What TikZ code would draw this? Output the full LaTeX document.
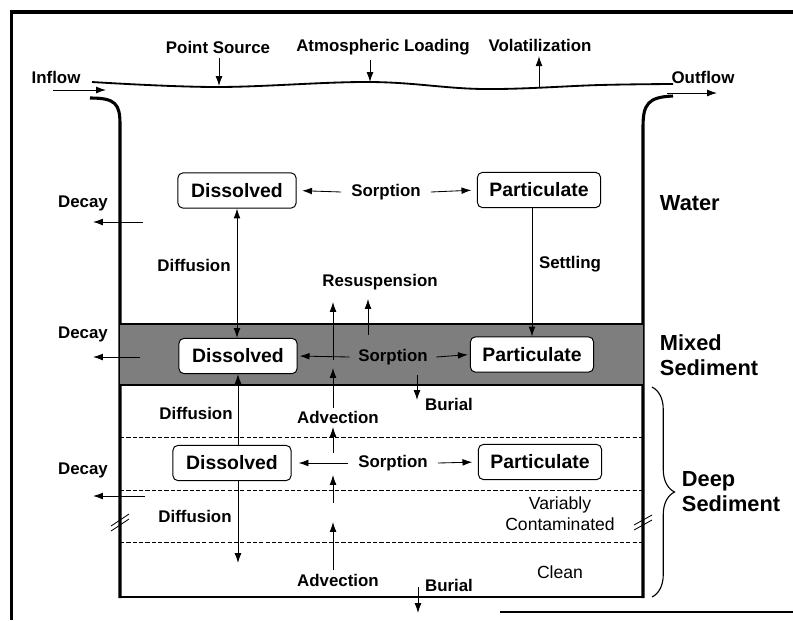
\documentclass[tikz,border=0pt]{standalone}
\usepackage{fontspec}
\setmainfont{Liberation Sans}
\usetikzlibrary{arrows.meta,
	decorations.pathreplacing
}
\definecolor{sediment}{HTML}{7E7E7E}

\begin{document}
\begin{tikzpicture}[x=0.025cm,y=-0.025cm,>={Latex[length=7pt,width=4.8pt]},
		box/.style={draw,fill=white,rounded corners=3.5pt,line width=0.7pt,minimum width=84pt,minimum height=25pt,inner xsep=8.5pt,font=\fontsize{13.8}{15}\selectfont\bfseries},
		lbl/.style={font=\fontsize{12}{13}\selectfont\bfseries},
		plain/.style={font=\fontsize{12.5}{15}\selectfont,align=center},
		layer/.style={font=\fontsize{15.5}{17.8}\selectfont\bfseries,align=left,anchor=west},
		flux/.style={line width=0.6pt},
		wall/.style={line width=2.2pt}]
		\useasboundingbox (0,0) rectangle (793,620);
		%
		% frame of the scan
		\draw[line width=3pt] (10,12) -- (793,12);
		\draw[line width=2.6pt] (11.5,10) -- (11.5,620);
		\draw[line width=2pt] (500,612) -- (793,612);
		%
		% tank
		\draw[wall] (90,98) .. controls (116,98) and (120,104) .. (120,125) -- (120,598);
		\draw[wall] (673,96) .. controls (648,97) and (643,104) .. (643,127) -- (643,598);
		\draw[line width=1.5pt] (120,597) -- (643,597);
		\draw[line width=1.3pt] plot[smooth,tension=0.6] coordinates {(92,82) (217,87) (370,82) (483,89) (600,85) (673,84)};
		%
		% mixed sediment band
		\fill[sediment] (120,324) rectangle (643,385);
		\draw[line width=1pt] (120,324) -- (643,324);
		\draw[line width=1pt] (120,385) -- (643,385);
		%
		% deep sediment layers
		\draw[flux,dash pattern=on 3pt off 1.5pt] (120,437) -- (643,437);
		\draw[flux,dash pattern=on 3pt off 1.5pt] (120,490) -- (643,490);
		\draw[flux,dash pattern=on 3pt off 1.5pt] (120,542) -- (643,542);
		%
		% breaks
		\draw[flux] (111,526) -- (129,514);
		\draw[flux] (111,531) -- (129,519);
		\draw[flux] (634,525) -- (652,515);
		\draw[flux] (634,530) -- (652,520);
		%
		% boxes
		\node[box] (disW) at (237,190.5) {Dissolved};
		\node[box] (parW) at (539,190) {Particulate};
		\node[box] (disM) at (238,356) {Dissolved};
		\node[box] (parM) at (532,354.5) {Particulate};
		\node[box] (disD) at (232,463) {Dissolved};
		\node[box] (parD) at (540,462) {Particulate};
		%
		% sorption
		\node[lbl,inner xsep=7pt] (sorpW) at (386,192) {Sorption};
		\node[lbl,inner xsep=6pt] (sorpM) at (393,357) {Sorption};
		\node[lbl,inner xsep=7pt] (sorpD) at (393,463) {Sorption};
		\draw[flux,->,shorten >=4pt] (sorpW.west) -- (disW.east);
		\draw[flux,->,shorten >=4pt] (sorpW.east) -- (parW.west);
		\draw[flux,->,shorten >=1.5pt] (sorpM.west) -- (disM.east);
		\draw[flux,->,shorten >=1.5pt] (sorpM.east) -- (parM.west);
		\draw[flux,->,shorten >=5pt] (sorpD.west) -- (disD.east);
		\draw[flux,->,shorten >=4pt] (sorpD.east) -- (parD.west);
		%
		% surface fluxes
		\node[lbl] (inflow) at (56,77) {Inflow};
		\node[lbl] (psource) at (218,47) {Point Source};
		\node[lbl] (atmos) at (383,47) {Atmospheric Loading};
		\node[lbl] (volat) at (540,45) {Volatilization};
		\node[lbl] (outflow) at (703,77) {Outflow};
		\coordinate (inA) at (53,90);
		\coordinate (inB) at (106,90);
		\coordinate (sPS) at (219,86);
		\coordinate (sAL) at (370,82);
		\coordinate (sVO) at (539,87);
		\coordinate (outA) at (667,93);
		\coordinate (outB) at (717,93);
		\draw[flux,->] (inA) -- (inB);
		\draw[flux,->] (sPS |- psource.south) -- (sPS);
		\draw[flux,->] (sAL |- atmos.south) -- (sAL);
		\draw[flux,->] (sVO) -- (sVO |- volat.south);
		\draw[flux,->] (outA) -- (outB);
		%
		% decay
		\node[lbl] (decW) at (83,203) {Decay};
		\node[lbl] (decM) at (83,334) {Decay};
		\node[lbl] (decD) at (83,470) {Decay};
		\coordinate (dWa) at (143,222);
		\coordinate (dWb) at (93,222);
		\coordinate (dMa) at (140,357);
		\coordinate (dMb) at (93,357);
		\coordinate (dDa) at (145,496);
		\coordinate (dDb) at (93,496);
		\draw[flux,->] (dWa) -- (dWb);
		\draw[flux,->] (dMa) -- (dMb);
		\draw[flux,->] (dDa) -- (dDb);
		%
		% diffusion
		\node[lbl] (difW) at (194,265) {Diffusion};
		\node[lbl] (difD1) at (196,413) {Diffusion};
		\node[lbl] (difD2) at (195,516) {Diffusion};
		\coordinate (difEnd) at (238,563);
		\draw[flux,<->] (disW.south) -- (disW.south |- disM.north);
		\draw[flux,->] (disM.south |- disD.north) -- (disM.south);
		\draw[flux,->] (disM.south |- disD.south) -- (difEnd);
		%
		% settling
		\node[lbl] (settl) at (570,264) {Settling};
		\draw[flux,->] (parM.north |- parW.south) -- (parM.north);
		%
		% resuspension and advection
		\node[lbl] (resusp) at (380,282) {Resuspension};
		\node[lbl] (advU) at (338,417) {Advection};
		\node[lbl] (advL) at (338,580) {Advection};
		\coordinate (rA1) at (333,360);
		\coordinate (rA2) at (333,302);
		\coordinate (rB1) at (368,335);
		\coordinate (rB2) at (368,299);
		\coordinate (aD1) at (333,408);
		\coordinate (aD2) at (333,368);
		\coordinate (aC1) at (333,453);
		\coordinate (aC2) at (333,427);
		\coordinate (aB1) at (333,503);
		\coordinate (aB2) at (333,475);
		\coordinate (aA1) at (333,570);
		\coordinate (aA2) at (333,522);
		\draw[flux,->] (rA1) -- (rA2);
		\draw[flux,->] (rB1) -- (rB2);
		\draw[flux,->] (aD1) -- (aD2);
		\draw[flux,->] (aC1) -- (aC2);
		\draw[flux,->] (aB1) -- (aB2);
		\draw[flux,->] (aA1) -- (aA2);
		%
		% burial
		\node[lbl] (burM) at (449,404) {Burial};
		\node[lbl] (burD) at (449,585) {Burial};
		\coordinate (bM1) at (417,375);
		\coordinate (bM2) at (417,400);
		\coordinate (bD1) at (418,587);
		\coordinate (bD2) at (418,613);
		\draw[flux,->] (bM1) -- (bM2);
		\draw[flux,->] (bD1) -- (bD2);
		%
		% deep layers
		\node[plain] (varc) at (560,514) {Variably\\Contaminated};
		\node[plain] (clean) at (560,572) {Clean};
		%
		% compartments
		\node[layer] (water) at (655,203) {Water};
		\node[layer] (mixed) at (655,355) {Mixed\\Sediment};
		\node[layer] (deep) at (677,492) {Deep\\Sediment};
		\coordinate (brTop) at (652,387);
		\coordinate (brBot) at (652,597);
		\draw[line width=0.8pt,decorate,decoration={brace,amplitude=16pt}] (brTop) -- (brBot);
	\end{tikzpicture}
\end{document}
